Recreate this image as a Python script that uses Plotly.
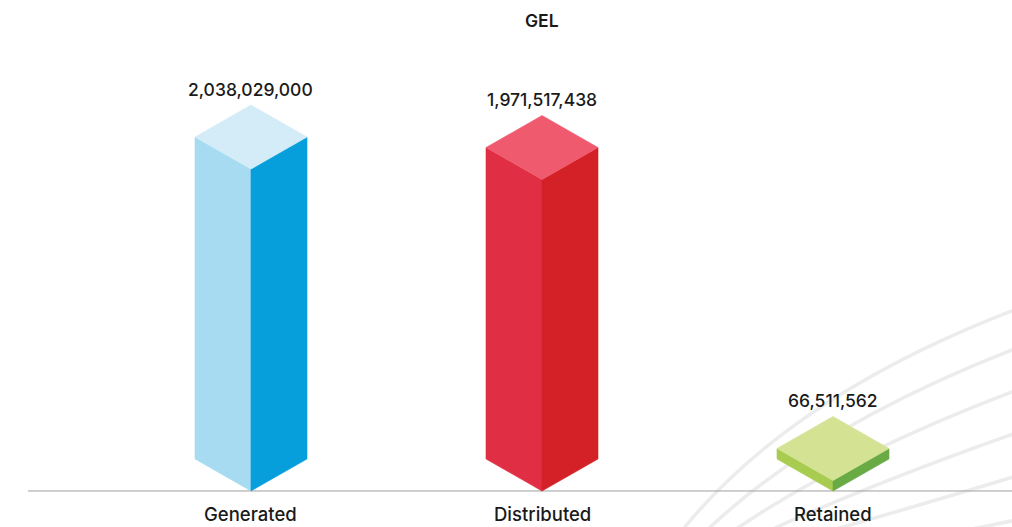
import plotly.graph_objects as go

# Data
categories = ["Generated", "Distributed", "Retained"]
values = [2038029000, 1971517438, 66511562]
value_labels = ["2,038,029,000", "1,971,517,438", "66,511,562"]
title_text = "GEL"

# Colours for each prism: (top, left face, right face)
face_colors = [
    ("#d3ecf7", "#a6dbf2", "#069fdb"),
    ("#f05a6e", "#e02f44", "#d42128"),
    ("#d3e393", "#a8cc50", "#68aa44"),
]

W, H = 1012, 527
X_RANGE = [-0.8625, 2.6151]
Y_RANGE = [-2.28e8, 3.108e9]

# Pixel-to-data conversions for the isometric offsets
x_per_px = (X_RANGE[1] - X_RANGE[0]) / W
y_per_px = (Y_RANGE[1] - Y_RANGE[0]) / H
half_w = 56 * x_per_px   # half width of a prism
dy = 32 * y_per_px       # vertical rise of the diamond half

FONT = "Inter, Lato, sans-serif"
TEXT_COLOR = "#1a1a1a"

fig = go.Figure()


def poly(xs, ys, color):
    fig.add_trace(go.Scatter(
        x=xs + [xs[0]], y=ys + [ys[0]], mode="lines", fill="toself",
        fillcolor=color, line=dict(color=color, width=0.6),
        hoverinfo="skip", showlegend=False,
    ))


for i, (cat, v) in enumerate(zip(categories, values)):
    top_c, left_c, right_c = face_colors[i]
    cx = i
    # left face
    poly([cx - half_w, cx, cx, cx - half_w], [dy, 0, v, v + dy], left_c)
    # right face
    poly([cx, cx + half_w, cx + half_w, cx], [0, dy, v + dy, v], right_c)
    # top face
    poly([cx, cx - half_w, cx, cx + half_w], [v, v + dy, v + 2 * dy, v + dy], top_c)

annotations = []
for i, (cat, v, lab) in enumerate(zip(categories, values, value_labels)):
    annotations.append(dict(
        x=i, y=v + 2 * dy, text=lab, showarrow=False, xref="x", yref="y",
        yanchor="middle", yshift=16,
        font=dict(family=FONT, size=17.5, color=TEXT_COLOR, weight=500),
    ))
    annotations.append(dict(
        x=i, y=0, text=cat, showarrow=False, xref="x", yref="y",
        yanchor="middle", yshift=-23,
        font=dict(family=FONT, size=18.5, color=TEXT_COLOR, weight=500),
    ))

annotations.append(dict(
    x=1, y=1 - 20 / H, text=title_text, showarrow=False, xref="x", yref="paper",
    yanchor="middle",
    font=dict(family=FONT, size=17.5, color=TEXT_COLOR, weight=600),
))

# Decorative fan of soft grey curves in the lower right corner (pixel coords)
swooshes = [
    ((660, 560), (770, 400), (1030, 304)),
    ((678, 560), (792, 433), (1030, 343)),
    ((694, 560), (812, 466), (1030, 385)),
    ((708, 560), (832, 497), (1030, 428)),
    ((722, 560), (852, 526), (1030, 472)),
    ((740, 560), (880, 550), (1030, 517)),
]


def pp(p):
    return f"{p[0] / W:.5f},{1 - p[1] / H:.5f}"


shapes = []
for p0, p1, p2 in swooshes:
    shapes.append(dict(
        type="path", xref="paper", yref="paper", layer="below",
        path=f"M {pp(p0)} Q {pp(p1)} {pp(p2)}",
        line=dict(color="#ececec", width=3.5),
    ))

# Baseline
shapes.append(dict(
    type="line", xref="paper", yref="y", x0=28 / W, x1=1, y0=0, y1=0,
    line=dict(color="#9f9f9f", width=1), layer="below",
))

fig.update_layout(
    width=W, height=H,
    margin=dict(l=0, r=0, t=0, b=0),
    paper_bgcolor="white", plot_bgcolor="white",
    xaxis=dict(range=X_RANGE, visible=False, fixedrange=True),
    yaxis=dict(range=Y_RANGE, visible=False, fixedrange=True),
    annotations=annotations,
    shapes=shapes,
    showlegend=False,
)

fig.write_html("out.html")
